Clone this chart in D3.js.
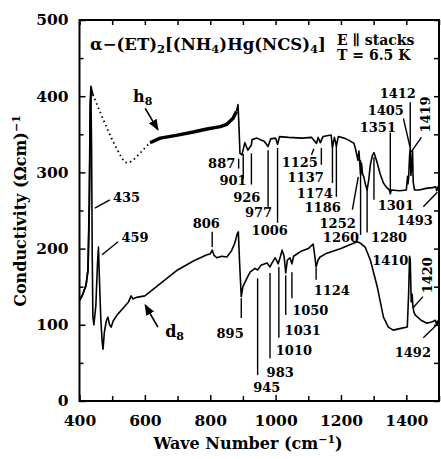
<!DOCTYPE html>
<html><head><meta charset="utf-8">
<script src="https://cdn.jsdelivr.net/npm/d3@7/dist/d3.min.js"></script>
<style>body{margin:0;background:#fff}svg{display:block}</style>
</head><body><svg id="c" width="441" height="459"></svg>
<script>
// ---- tick labels ----
const xTicks = [400, 600, 800, 1000, 1200, 1400];
const xMinorTicks = [500, 700, 900, 1100, 1300, 1500];
const yTicks = [0, 100, 200, 300, 400, 500];
const yMinorTicks = [50, 150, 250, 350, 450];

// ---- h8 (upper) spectrum ----
const h8StartWave = [400, 410, 420, 426, 430, 433, 435, 437, 441];
const h8StartVal  = [132, 140, 152, 172, 260, 390, 413, 408, 402];
const h8DotWave = [441, 470, 500, 530, 545, 570, 595, 616];
const h8DotVal  = [402, 372, 342, 318, 310, 318, 330, 339];
const h8BandWave = [616, 647, 700, 748, 790, 831, 850, 870, 880];
const h8BandVal  = [339, 345, 349, 353, 357, 360, 363, 371, 380];
const h8MainWave = [880, 885, 888, 891, 897, 906, 915, 926, 928, 943, 953, 965, 977, 985, 1000, 1006, 1012, 1040, 1080, 1110, 1125, 1130, 1137, 1145, 1170, 1174, 1180, 1186, 1192, 1210, 1225, 1240, 1245, 1252, 1255, 1258, 1260, 1263, 1266, 1270, 1275, 1280, 1285, 1290, 1296, 1301, 1310, 1320, 1330, 1340, 1348, 1351, 1354, 1380, 1400, 1404, 1405, 1407, 1410, 1412, 1414, 1417, 1419, 1421, 1425, 1440, 1460, 1480, 1490, 1493, 1497, 1500];
const h8MainVal  = [380, 389, 360, 325, 323, 339, 329, 336, 343, 345, 343, 341, 334, 344, 345, 337, 347, 346, 345, 346, 338, 346, 339, 347, 349, 333, 346, 335, 347, 345, 342, 338, 330, 316, 328, 310, 297, 312, 298, 294, 284, 277, 290, 310, 322, 326, 314, 298, 286, 280, 277, 272, 277, 276, 277, 295, 285, 292, 322, 332, 296, 312, 328, 288, 277, 277, 279, 280, 281, 276, 281, 281];

// ---- d8 (lower) spectrum ----
const d8Wave = [400, 410, 420, 426, 430, 433, 435, 437, 439, 441, 444, 450, 455, 458, 461, 465, 469, 472, 476, 482, 487, 492, 497, 503, 515, 530, 550, 558, 563, 575, 600, 650, 700, 750, 790, 800, 806, 812, 820, 835, 851, 865, 875, 883, 886, 890, 895, 900, 912, 922, 937, 945, 955, 974, 983, 990, 999, 1008, 1015, 1020, 1026, 1031, 1036, 1044, 1050, 1055, 1080, 1100, 1115, 1120, 1124, 1130, 1136, 1157, 1200, 1227, 1250, 1260, 1274, 1290, 1311, 1330, 1345, 1360, 1380, 1403, 1407, 1410, 1412, 1415, 1418, 1420, 1423, 1427, 1445, 1463, 1480, 1489, 1492, 1496, 1500];
const d8Val  = [132, 140, 152, 172, 255, 385, 405, 330, 190, 110, 100, 125, 180, 202, 160, 110, 80, 68, 90, 105, 110, 100, 97, 105, 113, 120, 130, 138, 134, 136, 138, 155, 172, 184, 192, 193, 198, 191, 188, 190, 189, 197, 207, 220, 222, 180, 137, 150, 161, 169, 174, 172, 178, 181, 176, 182, 188, 180, 190, 198, 190, 168, 185, 188, 180, 190, 197, 200, 206, 190, 176, 185, 189, 194, 200, 205, 209, 207, 202, 185, 150, 110, 97, 93, 95, 97, 140, 190, 185, 130, 140, 125, 117, 113, 106, 102, 104, 106, 101, 105, 102];

// ---- peak annotations: text, label position (wave, value), leader (wave1, val1, wave2, val2) ----
const annLabels = ["435", "459", "806", "887", "901", "926", "977", "1006", "1125", "1137", "1174", "1186", "1252", "1260", "1280", "1301", "1351", "1405", "1412", "1493", "895", "945", "983", "1010", "1031", "1050", "1124", "1410", "1492"];
const annTextWave = [544, 570, 788, 835, 870, 912, 948, 982, 1074, 1092, 1120, 1144, 1190, 1200, 1347, 1368, 1313, 1337, 1374, 1426, 861, 973, 1014, 1056, 1083, 1106, 1172, 1351, 1420];
const annTextVal  = [261, 209, 227, 306, 284, 261, 242, 218, 307, 287, 266, 248, 227, 209, 209, 251, 353, 375, 398, 231, 83, 12, 32, 60, 87, 113, 139, 179, 58];
const annLeader = [
  [447, 253, 493, 264], [469, 192, 518, 209], [806, 222, 806, 202],
  [887, 318, 887, 305], [901, 324, 901, 292], [926, 325, 926, 284],
  [977, 329, 977, 255], [1006, 332, 1006, 234], [1110, 323, 1117, 331],
  [1140, 332, 1140, 310], [1174, 340, 1174, 286], [1186, 340, 1186, 268],
  [1235, 251, 1253, 294], [1260, 316, 1260, 218], [1280, 281, 1280, 221],
  [1301, 320, 1301, 264], [1351, 352, 1351, 275], [1391, 371, 1412, 332],
  [1412, 392, 1412, 334], [1452, 255, 1495, 274],
  [895, 135, 895, 109], [945, 161, 945, 34], [983, 168, 983, 56],
  [1010, 176, 1010, 83], [1031, 165, 1031, 113], [1050, 169, 1050, 135],
  [1124, 175, 1124, 159], [1410, 188, 1410, 180], [1452, 83, 1498, 102]
];
// rotated labels
const rotLabels = ["1419", "1420"];
const rotWave = [1459, 1466];
const rotVal  = [376, 165];
const rotLeader = [[1415, 327, 1446, 346], [1420, 122, 1451, 137]];

const svg = d3.select('#c');
const F = '"DejaVu Serif", serif';
const x = d3.scaleLinear().domain([400, 1500]).range([79.5, 439]);
const y = d3.scaleLinear().domain([0, 500]).range([401, 20]);

// axes
function styleAxis(g) { g.select('.domain').remove(); g.selectAll('line').attr('stroke', '#000').attr('stroke-width', 1.5); g.selectAll('text').attr('font-family', F).attr('font-weight', 'bold').attr('font-size', 15.5).attr('fill', '#000'); }
svg.append('g').attr('transform', 'translate(0,401)')
  .call(d3.axisBottom(x).tickValues(xTicks).tickSize(-6).tickPadding(14).tickFormat(d3.format('d'))).call(styleAxis);
svg.append('g').attr('transform', 'translate(0,401)')
  .call(d3.axisBottom(x).tickValues(xMinorTicks).tickSize(-5).tickFormat('')).call(styleAxis);
svg.append('g').attr('transform', 'translate(0,20)')
  .call(d3.axisTop(x).tickValues(xTicks.concat(xMinorTicks)).tickSize(-5).tickFormat('')).call(styleAxis);
svg.append('g').attr('transform', 'translate(79.5,0)')
  .call(d3.axisLeft(y).tickValues(yTicks).tickSize(-6).tickPadding(11).tickFormat(d3.format('d'))).call(styleAxis);
svg.append('g').attr('transform', 'translate(79.5,0)')
  .call(d3.axisLeft(y).tickValues(yMinorTicks).tickSize(-4).tickFormat('')).call(styleAxis);
svg.append('g').attr('transform', 'translate(439,0)')
  .call(d3.axisRight(y).tickValues(yTicks.concat(yMinorTicks)).tickSize(-5).tickFormat('')).call(styleAxis);
svg.append('rect').attr('x', x(400)).attr('y', y(500)).attr('width', x(1500) - x(400)).attr('height', y(0) - y(500))
  .attr('fill', 'none').attr('stroke', '#000').attr('stroke-width', 2);

// curves
const line = d3.line().x(d => x(d[0])).y(d => y(d[1]));
const zip = (a, b) => a.map((v, i) => [v, b[i]]);
const g = svg.append('g').attr('fill', 'none').attr('stroke', '#000').attr('stroke-linejoin', 'round');
g.append('path').attr('d', line(zip(h8StartWave, h8StartVal))).attr('stroke-width', 1.8);
g.append('path').attr('d', line.curve(d3.curveBasis)(zip(h8DotWave, h8DotVal))).attr('stroke-width', 1.8).attr('stroke-dasharray', '1.5,3.2');
line.curve(d3.curveLinear);
g.append('path').attr('d', line(zip(h8BandWave, h8BandVal))).attr('stroke-width', 3.4);
g.append('path').attr('d', line(zip(h8MainWave, h8MainVal))).attr('stroke-width', 1.6);
g.append('path').attr('d', line(zip(d8Wave, d8Val))).attr('stroke-width', 1.6);

// annotations
const ag = svg.append('g');
annLabels.forEach((t, i) => {
  const L = annLeader[i];
  ag.append('line').attr('x1', x(L[0])).attr('y1', y(L[1])).attr('x2', x(L[2])).attr('y2', y(L[3]))
    .attr('stroke', '#000').attr('stroke-width', 1.4);
  ag.append('text').attr('x', x(annTextWave[i])).attr('y', y(annTextVal[i])).attr('text-anchor', 'middle')
    .attr('font-family', F).attr('font-weight', 'bold').attr('font-size', 13).text(t);
});
rotLabels.forEach((t, i) => {
  const L = rotLeader[i];
  ag.append('line').attr('x1', x(L[0])).attr('y1', y(L[1])).attr('x2', x(L[2])).attr('y2', y(L[3]))
    .attr('stroke', '#000').attr('stroke-width', 1.4);
  ag.append('text').attr('transform', `translate(${x(rotWave[i])},${y(rotVal[i])}) rotate(-90)`)
    .attr('text-anchor', 'middle').attr('dy', '0.35em')
    .attr('font-family', F).attr('font-weight', 'bold').attr('font-size', 13).text(t);
});

// h8 / d8 labels with arrows
svg.append('defs').append('marker').attr('id', 'ah').attr('viewBox', '0 0 10 10').attr('refX', 9).attr('refY', 5)
  .attr('markerWidth', 7).attr('markerHeight', 7).attr('orient', 'auto')
  .append('path').attr('d', 'M0,1 L10,5 L0,9 Z').attr('fill', '#000');
function subLabel(txt, sub, wv, val) {
  const t = svg.append('text').attr('x', x(wv)).attr('y', y(val)).attr('font-family', F).attr('font-weight', 'bold').attr('font-size', 16);
  t.append('tspan').text(txt);
  t.append('tspan').attr('font-size', 11).attr('dy', 3).text(sub);
}
subLabel('h', '8', 564, 392);
subLabel('d', '8', 662, 84);
svg.append('line').attr('x1', x(601)).attr('y1', y(384)).attr('x2', x(640)).attr('y2', y(356))
  .attr('stroke', '#000').attr('stroke-width', 1.6).attr('marker-end', 'url(#ah)');
svg.append('line').attr('x1', x(640)).attr('y1', y(97)).attr('x2', x(601)).attr('y2', y(126))
  .attr('stroke', '#000').attr('stroke-width', 1.6).attr('marker-end', 'url(#ah)');

// title
const title = svg.append('text').attr('x', 90).attr('y', 50).attr('font-family', F).attr('font-weight', 'bold').attr('font-size', 16.5);
[['α−(ET)', 0], ['2', 1], ['[(NH', 0], ['4', 1], [')Hg(NCS)', 0], ['4', 1], [']', 0]].forEach(([s, sub], i, arr) => {
  const ts = title.append('tspan').text(s);
  if (sub) ts.attr('font-size', 11.5).attr('dy', 3);
  else if (i > 0 && arr[i - 1][1]) ts.attr('dy', -3);
});
svg.append('text').attr('x', 337).attr('y', 45).attr('font-family', F).attr('font-weight', 'bold').attr('font-size', 14).text('E ∥ stacks');
svg.append('text').attr('x', 337).attr('y', 60).attr('font-family', F).attr('font-weight', 'bold').attr('font-size', 14).text('T = 6.5 K');

// axis titles
const xt = svg.append('text').attr('x', 248).attr('y', 449).attr('text-anchor', 'middle').attr('font-family', F).attr('font-weight', 'bold').attr('font-size', 16);
xt.append('tspan').text('Wave Number (cm');
xt.append('tspan').attr('font-size', 11).attr('dy', -6).text('−1');
xt.append('tspan').attr('dy', 6).text(')');
const yt = svg.append('text').attr('transform', 'translate(26,211) rotate(-90)').attr('text-anchor', 'middle').attr('font-family', F).attr('font-weight', 'bold').attr('font-size', 16);
yt.append('tspan').text('Conductivity (Ωcm)');
yt.append('tspan').attr('font-size', 11).attr('dy', -6).text('−1');
</script></body></html>
